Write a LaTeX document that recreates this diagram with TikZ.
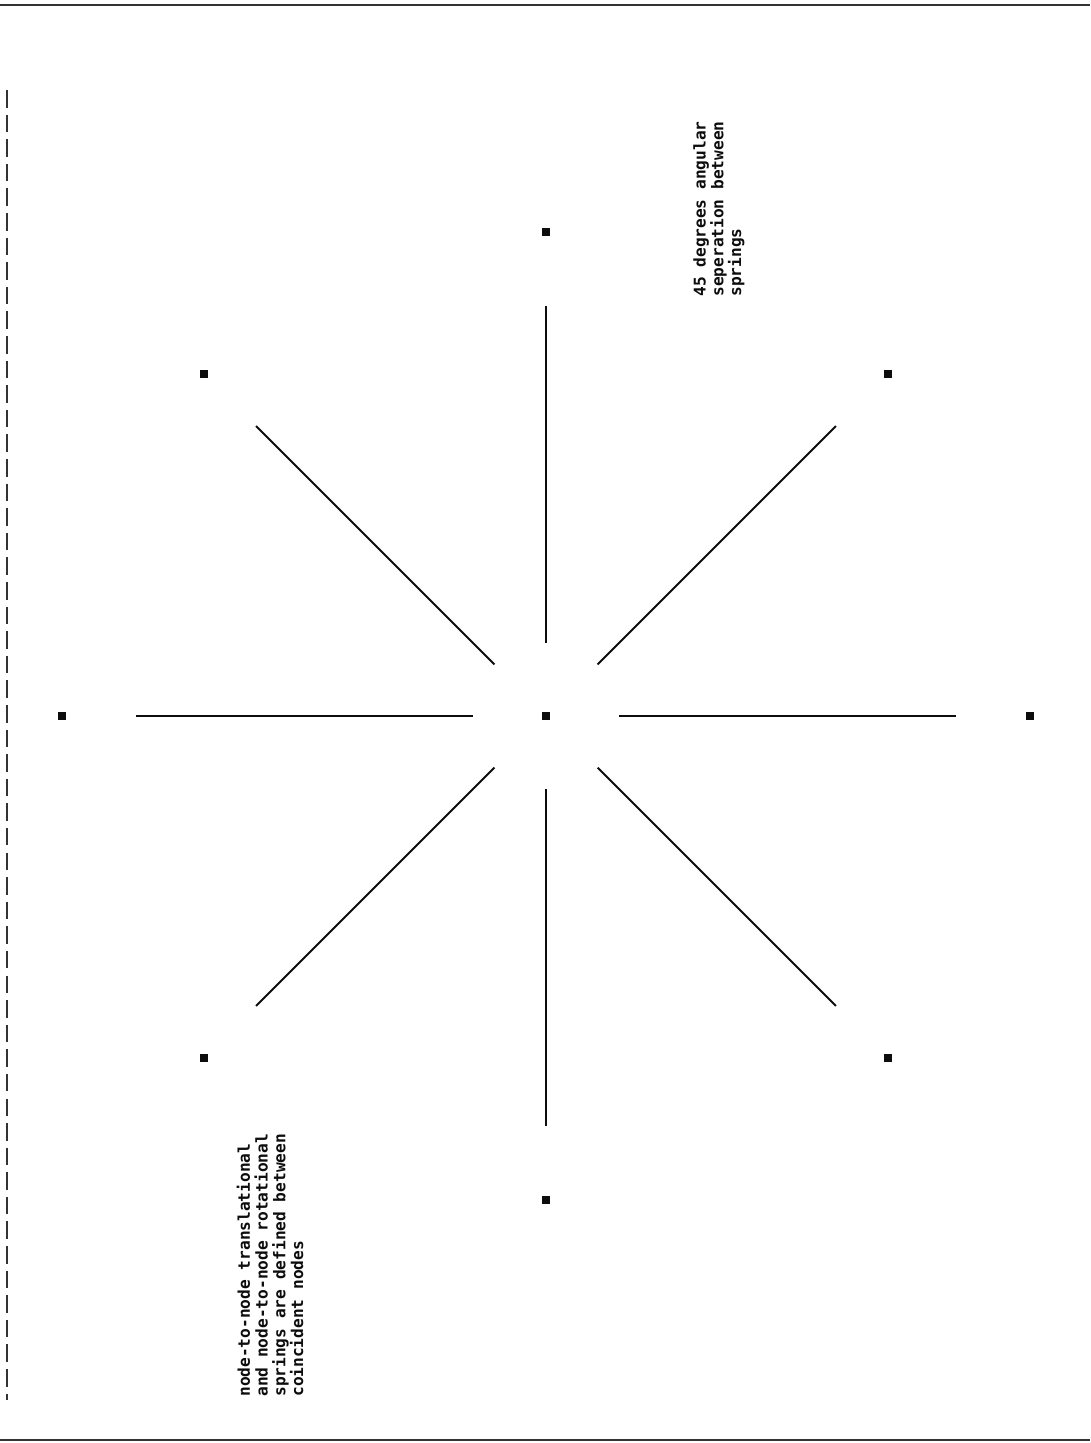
\documentclass[tikz,border=0pt]{standalone}
\usepackage{fontspec}
\newfontfamily\printfont{DejaVu Sans Mono}

\definecolor{cInk}{gray}{0.05}
\definecolor{cScan}{gray}{0.20}

\begin{document}
\begin{tikzpicture}[x=0.02cm, y=-0.02cm,
    meshnode/.style={fill=cInk, minimum size=0.16cm, inner sep=0pt},
    spring/.style={cInk, line width=1.1pt},
    note/.style={font=\printfont\bfseries\fontsize{9.2}{10.1}\selectfont, text=cInk,
        align=left, rotate=90, anchor=base west, inner sep=0pt}]

\useasboundingbox (0,0) rectangle (1090,1443);

\pgfmathsetmacro{\rin}{73}
\pgfmathsetmacro{\rout}{410}
\pgfmathsetmacro{\rdot}{484}

% ── Page frame (scanned border) ──
\draw[cScan, line width=1.5pt] (0,5) -- (1090,5);
\draw[cScan, line width=1.5pt] (0,1440) -- (1090,1440);
\draw[cScan, line width=0.6pt, dash pattern=on 10pt off 4pt] (7,90) -- (7,1400);

% ── Coincident nodes and springs ──
\begin{scope}[shift={(546,716)}]
\node[meshnode] (hub) at (0,0) {};
\foreach \a in {0,45,...,315} {
    \node[meshnode] (p\a) at (\a:\rdot) {};
    \coordinate (s\a in) at (\a:\rin);
    \coordinate (s\a out) at (\a:\rout);
    \draw[spring] (s\a in) -- (s\a out);
}
\end{scope}

% ── Notes (anchored at the baseline of the last line) ──
\node[note] (noteangle) at (741,297) {45 degrees angular\\seperation between\\springs};
\node[note] (notecoinc) at (303,1397) {node-to-node translational\\and node-to-node rotational\\springs are defined between\\coincident nodes};

\end{tikzpicture}
\end{document}
